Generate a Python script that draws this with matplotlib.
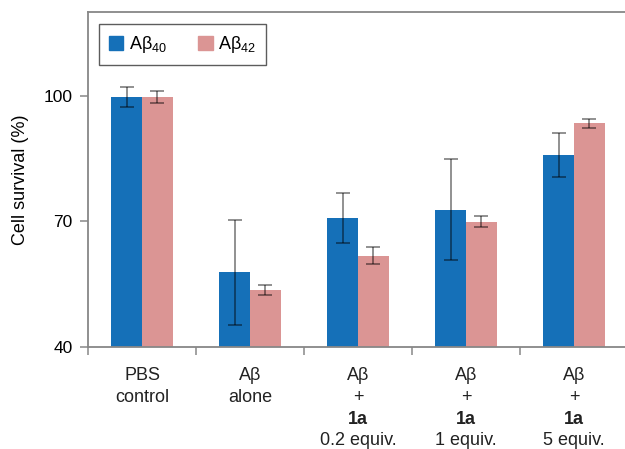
import matplotlib
matplotlib.use("Agg")
import matplotlib.pyplot as plt
import matplotlib.transforms as mtransforms
from matplotlib.patches import Rectangle
import numpy as np

plt.rcParams['font.family'] = ['Liberation Sans', 'DejaVu Sans']
plt.rcParams['mathtext.fontset'] = 'custom'
plt.rcParams['mathtext.rm'] = 'Liberation Sans'
plt.rcParams['mathtext.it'] = 'Liberation Sans:italic'
plt.rcParams['mathtext.bf'] = 'Liberation Sans:bold'

# ---- data ----
groups = ["PBS control", "Aβ alone", "Aβ + 1a 0.2 equiv.", "Aβ + 1a 1 equiv.", "Aβ + 1a 5 equiv."]
label_lines = [
    ["PBS", "control"],
    ["Aβ", "alone"],
    ["Aβ", "+", "1a", "0.2 equiv."],
    ["Aβ", "+", "1a", "1 equiv."],
    ["Aβ", "+", "1a", "5 equiv."],
]
ab40 = [99.8, 57.8, 70.8, 72.8, 85.8]
ab40_err = [2.4, 12.6, 5.9, 12.0, 5.3]
ab42 = [99.8, 53.6, 61.8, 69.9, 93.4]
ab42_err = [1.4, 1.15, 2.1, 1.3, 1.0]
series_names = ["Aβ$_{40}$", "Aβ$_{42}$"]
yticks = [40, 70, 100]

blue = "#1570B8"
pink = "#DB9594"
spine_c = "#878787"

W, H = 625, 449
fig = plt.figure(figsize=(W / 100, H / 100), dpi=100)
ax = fig.add_axes([88 / W, (H - 346.7) / H, (628 - 88) / W, (346.7 - 12.3) / H])

x = np.arange(len(groups))
bw = 0.287
err_kw = dict(ecolor=(0, 0, 0, 0.55), elinewidth=1.1, capsize=5, capthick=1.1)
ax.bar(x - bw / 2, ab40, bw, yerr=ab40_err, color=blue, error_kw=err_kw, label=series_names[0])
ax.bar(x + bw / 2, ab42, bw, yerr=ab42_err, color=pink, error_kw=err_kw, label=series_names[1])

ax.set_xlim(-0.5, len(groups) - 0.5)
ax.set_ylim(40, 120)
ax.set_yticks(yticks)
ax.set_yticklabels([str(v) for v in yticks], fontsize=12.5)
ax.set_xticks(np.arange(len(groups)) - 0.5)
ax.set_xticklabels([])

for s in ["left", "bottom", "top"]:
    ax.spines[s].set_color(spine_c)
    ax.spines[s].set_linewidth(1.3)
ax.spines["right"].set_visible(False)
ax.tick_params(axis="both", direction="out", length=6, width=1.1, color=spine_c, pad=5)

ax.set_ylabel("Cell survival (%)", fontsize=13)
ax.yaxis.label.set_verticalalignment("center")
ax.yaxis.set_label_coords((21 - 88) / 540, 0.5)

# multi-line category labels
trans = mtransforms.blended_transform_factory(ax.transData, fig.transFigure)
line_base = [380, 402, 424, 445]
for i, lines in enumerate(label_lines):
    for j, txt in enumerate(lines):
        ax.text(x[i], 1 - line_base[j] / H, txt, transform=trans, ha="center", va="baseline",
                fontsize=13, fontweight="bold" if txt == "1a" else "normal", color="#222222")

handles = [Rectangle((0, 0), 1, 1, color=blue), Rectangle((0, 0), 1, 1, color=pink)]
leg = ax.legend(handles, series_names, loc="upper left", bbox_to_anchor=(99 / W, 1 - 24 / H),
                bbox_transform=fig.transFigure, ncol=2, frameon=True, fancybox=False,
                edgecolor="#333333", fontsize=13, handlelength=0.8, handleheight=0.8,
                handletextpad=0.3, columnspacing=1.75, borderpad=0.55, borderaxespad=0)
leg.get_frame().set_linewidth(1.0)

fig.savefig("out.png", dpi=100)
